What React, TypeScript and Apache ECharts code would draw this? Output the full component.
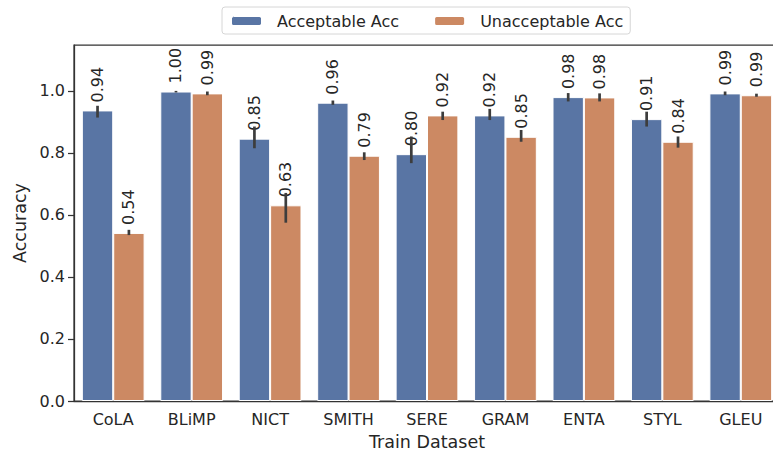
import React, { useEffect, useRef } from "react";
import * as echarts from "echarts";

const categories = ["CoLA", "BLiMP", "NICT", "SMITH", "SERE", "GRAM", "ENTA", "STYL", "GLEU"];
const acceptable = [0.937, 0.998, 0.846, 0.962, 0.796, 0.921, 0.98, 0.909, 0.992];
const unacceptable = [0.542, 0.992, 0.631, 0.791, 0.921, 0.852, 0.979, 0.836, 0.986];
const acceptableLow = [0.914, 0.995, 0.815, 0.955, 0.767, 0.906, 0.966, 0.885, 0.986];
const acceptableHigh = [0.952, 1.0, 0.885, 0.969, 0.853, 0.942, 0.993, 0.933, 0.998];
const unacceptableLow = [0.535, 0.986, 0.575, 0.777, 0.906, 0.836, 0.966, 0.817, 0.981];
const unacceptableHigh = [0.552, 0.998, 0.671, 0.802, 0.933, 0.874, 0.992, 0.853, 0.991];
const yTicks = [0, 0.2, 0.4, 0.6, 0.8, 1.0];

const FONT = "DejaVu Sans";
const TEXT = "#262626";

function errorSeries(lows: number[], highs: number[], sign: number) {
  return {
    type: "custom",
    silent: true,
    z: 5,
    data: lows.map((l, i) => [i, l, highs[i]]),
    encode: { x: 0, y: [1, 2] },
    renderItem: (params: any, api: any) => {
      const idx = api.value(0);
      const lo = api.coord([idx, api.value(1)]);
      const hi = api.coord([idx, api.value(2)]);
      const band = api.size([1, 0])[0];
      const x = lo[0] + sign * band * 0.2;
      return {
        type: "line",
        shape: { x1: x, y1: lo[1], x2: x, y2: hi[1] },
        style: { stroke: "#3d3d3d", lineWidth: 2.7 },
      };
    },
  };
}

export default function App() {
  const ref = useRef<HTMLDivElement>(null);
  useEffect(() => {
    if (!ref.current) return;
    const chart = echarts.init(ref.current, undefined, { renderer: "svg" });
    const label = {
      show: true,
      position: "top",
      rotate: 90,
      align: "left",
      verticalAlign: "middle",
      distance: 8,
      fontFamily: FONT,
      fontSize: 16,
      color: TEXT,
      formatter: (p: any) => (p.value as number).toFixed(2),
    };
    chart.setOption({
      animation: false,
      textStyle: { fontFamily: FONT },
      legend: {
        top: 7,
        left: 222,
        itemWidth: 31,
        itemHeight: 10,
        itemGap: 34,
        padding: [6, 7, 5, 8],
        borderColor: "#d6d6d6",
        borderWidth: 1,
        borderRadius: 3,
        textStyle: { fontFamily: FONT, fontSize: 16, color: TEXT, padding: [0, 0, 0, 10] },
        data: ["Acceptable Acc", "Unacceptable Acc"],
      },
      grid: {
        left: 74,
        top: 45,
        width: 706,
        height: 356,
        outerBoundsMode: "none",
        containLabel: false,
        show: true,
        borderColor: "#333333",
        borderWidth: 1.25,
        backgroundColor: "transparent",
      },
      xAxis: {
        type: "category",
        data: categories,
        name: "Train Dataset",
        nameLocation: "middle",
        nameGap: 32,
        nameTextStyle: { fontFamily: FONT, fontSize: 17.5, color: TEXT },
        axisLine: { lineStyle: { color: "#333333", width: 1.25 } },
        axisTick: { alignWithLabel: true, length: 6, lineStyle: { color: "#333333", width: 1.25 } },
        axisLabel: { fontFamily: FONT, fontSize: 16, color: TEXT, margin: 10 },
      },
      yAxis: {
        type: "value",
        min: 0,
        max: 1.148,
        interval: 0.2,
        name: "Accuracy",
        nameLocation: "middle",
        nameGap: 44,
        nameTextStyle: { fontFamily: FONT, fontSize: 17.5, color: TEXT },
        axisLine: { show: true, lineStyle: { color: "#333333", width: 1.25 } },
        axisTick: { show: true, length: 6, lineStyle: { color: "#333333", width: 1.25 } },
        splitLine: { show: false },
        axisLabel: {
          fontFamily: FONT,
          fontSize: 16,
          color: TEXT,
          margin: 9,
          showMaxLabel: false,
          formatter: (v: number) => (yTicks.some((t) => Math.abs(t - v) < 1e-6) ? v.toFixed(1) : ""),
        },
      },
      series: [
        {
          name: "Acceptable Acc",
          type: "bar",
          data: acceptable,
          barGap: "0%",
          barCategoryGap: "20%",
          itemStyle: { color: "#5975a4", borderColor: "#ffffff", borderWidth: 1 },
          label,
        },
        {
          name: "Unacceptable Acc",
          type: "bar",
          data: unacceptable,
          barGap: "0%",
          barCategoryGap: "20%",
          itemStyle: { color: "#cc8963", borderColor: "#ffffff", borderWidth: 1 },
          label,
        },
        errorSeries(acceptableLow, acceptableHigh, -1),
        errorSeries(unacceptableLow, unacceptableHigh, 1),
      ],
    });
    return () => chart.dispose();
  }, []);
  return <div ref={ref} style={{ width: 773, height: 452, position: "absolute", left: 0, top: 0 }} />;
}
